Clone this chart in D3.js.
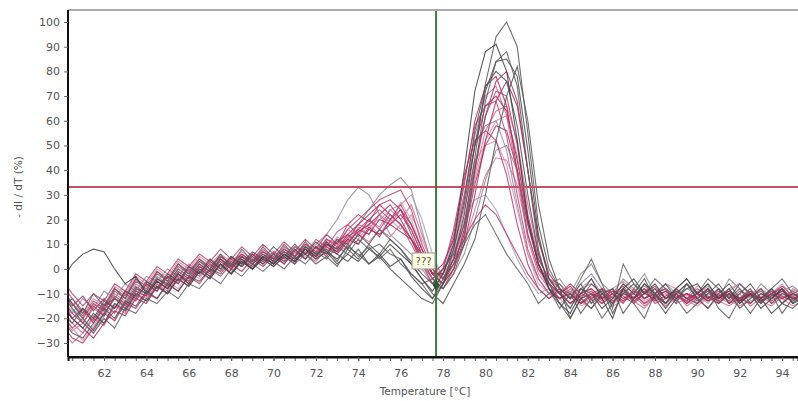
<!DOCTYPE html>
<html><head><meta charset="utf-8">
<script src="https://cdn.jsdelivr.net/npm/d3@7"></script>
<style>body{margin:0;background:#fff}svg{display:block}</style>
</head><body><svg id="c" width="798" height="401"></svg>
<script>
const temps = [60,60.5,61,61.5,62,62.5,63,63.5,64,64.5,65,65.5,66,66.5,67,67.5,68,68.5,69,69.5,70,70.5,71,71.5,72,72.5,73,73.5,74,74.5,75,75.5,76,76.5,77,77.5,78,78.5,79,79.5,80,80.5,81,81.5,82,82.5,83,83.5,84,84.5,85,85.5,86,86.5,87,87.5,88,88.5,89,89.5,90,90.5,91,91.5,92,92.5,93,93.5,94,94.5,95];
const xTicks = [62,64,66,68,70,72,74,76,78,80,82,84,86,88,90,92,94];
const yTicks = [-30,-20,-10,0,10,20,30,40,50,60,70,80,90,100];
const threshold = 33.2;
const cursorTemp = 77.67;
const cursorLabel = "???";
const cursorValue = -6.5;

const s1 = [-8,-14,-20,-25,-18,-12,-15,-8,-10,-4, -6,0,-3,2,-1,4,1,5,2,6, 3,7,4,6,2,5,1,8,4,10, 6,12,8,3,-2,-6,0,6,18,45, 75,94,100,90,55,18,0,-8,-12,-6, -14,-8,-18,-10,-6,-12,-8,-14,-10,-6, -12,-8,-14,-10,-16,-12,-8,-14,-10,-12, -11];
const s2 = [-5,2,6,8,7,0,-6,-3,-10,-5, -8,-2,-6,0,-3,2,-2,4,0,5, 2,6,3,8,4,7,2,6,3,8, 5,10,6,2,-4,-9,-2,10,40,72, 88,91,80,52,20,2,-8,-14,-18,-10, -4,-12,-20,-8,-4,-10,-6,-12,-8,-4, -10,-6,-12,-8,-14,-10,-16,-12,-8,-14, -12];
const s3 = [-15,-20,-24,-18,-22,-14,-17,-10,-13,-7, -10,-4,-7,-1,-4,2,-2,3,0,4, 1,5,2,9,5,11,6,3,8,2, 6,1,4,-3,-8,-12,-6,4,22,50, 72,84,85,78,48,14,-4,-10,-16,-8, -10,-16,-12,-6,-10,-4,-12,-18,-12,-8, -6,-12,-8,-14,-10,-6,-12,-18,-14,-10, -12];
const s4 = [-20,-26,-28,-22,-16,-20,-13,-15,-9,-12, -6,-9,-3,-5,0,-2,3,1,5,2, 6,3,8,4,9,6,12,8,14,10, 16,12,8,2,-4,-10,-14,-6,2,12, 30,52,70,82,60,26,4,-8,-20,-12, -6,-10,-14,-8,-12,-6,-10,-14,-8,-12, -14,-10,-6,-12,-8,-14,-10,-12,-8,-14, -10];
const s5 = [-10,-16,-22,-26,-20,-24,-16,-18,-12,-14, -9,-12,-6,-8,-3,-6,0,-3,2,-1, 3,0,5,2,7,4,9,6,12,8, 10,6,4,-2,-6,-12,-4,2,10,18, 22,14,6,0,-6,-14,-10,-6,-12,-4, 4,-6,-16,2,-6,-10,-4,-8,-14,-6, -10,-4,-8,-12,-6,-10,-14,-8,-4,-10, -8];
const s6 = [-12,-18,-22,-15,-19,-11,-14,-7,-10,-4, -7,-1,-4,2,-1,4,0,5,2,6, 3,7,4,8,5,10,8,14,18,22, 26,28,24,14,4,-2,2,12,34,60, 74,78,66,40,14,0,-6,-10,-14,-10, -8,-12,-10,-14,-8,-12,-10,-8,-12,-10, -12,-8,-12,-10,-14,-10,-12,-8,-12,-10, -11];
const s7 = [-18,-24,-20,-14,-17,-9,-12,-5,-8,-2, -5,1,-2,3,0,5,2,6,3,7, 4,8,5,10,7,12,10,16,20,24, 28,30,32,24,10,0,-4,4,18,42, 62,72,70,50,22,4,-4,-8,-12,-8, -12,-10,-14,-10,-12,-8,-14,-12,-10,-14, -10,-12,-8,-14,-12,-10,-14,-10,-12,-10, -12];
const s8 = [-6,-12,-17,-21,-14,-18,-10,-13,-6,-9, -3,-6,0,-3,2,-1,4,1,6,3, 7,4,9,6,12,9,15,18,14,20, 16,22,18,10,2,-4,0,14,36,58, 66,68,54,30,8,-4,-10,-12,-8,-12, -10,-8,-12,-9,-13,-10,-8,-12,-10,-13, -9,-12,-10,-13,-9,-11,-13,-10,-12,-9, -11];
const s9 = [-22,-28,-30,-24,-18,-21,-14,-16,-10,-12, -6,-9,-3,-6,0,-3,2,-1,4,1, 5,2,7,4,9,6,12,10,16,14, 20,18,22,16,6,-2,-6,2,14,34, 50,58,56,40,18,2,-6,-10,-6,-10, -8,-12,-9,-11,-14,-10,-12,-9,-13,-10, -13,-10,-12,-9,-13,-11,-9,-13,-10,-12, -10];
const s10 = [-14,-20,-16,-22,-15,-12,-16,-9,-11,-5, -8,-2,-5,1,-2,3,0,4,1,5, 2,6,3,7,4,9,6,11,15,18, 22,26,20,12,2,-6,-8,-2,10,30, 52,68,76,66,40,12,-2,-8,-10,-14, -10,-12,-8,-12,-10,-14,-11,-9,-12,-10, -12,-9,-13,-10,-12,-14,-10,-12,-9,-12, -11];
const s11 = [-10,-14,-19,-13,-16,-8,-11,-4,-7,-1, -4,2,-1,4,1,5,2,6,3,7, 4,8,5,9,6,11,8,13,16,20, 24,20,26,18,8,0,-4,4,12,20, 26,22,14,6,-2,-8,-12,-8,-12,-10, -12,-8,-10,-13,-9,-12,-10,-8,-11,-13, -10,-13,-9,-11,-13,-10,-12,-9,-11,-13, -10];
const s12 = [-16,-22,-26,-19,-22,-15,-17,-10,-12,-6, -9,-3,-6,0,-3,2,-1,3,0,4, 1,5,2,6,3,8,6,12,18,16, 22,18,24,16,6,-2,-2,10,30,54, 70,74,62,38,12,-2,-8,-12,-10,-14, -12,-14,-10,-13,-11,-15,-12,-10,-14,-12, -14,-11,-13,-15,-12,-10,-13,-15,-11,-13, -12];
const s13 = [-8,-14,-18,-12,-15,-7,-10,-3,-6,0, -3,3,0,5,2,6,3,7,4,8, 5,9,6,10,7,12,9,14,12,18, 14,20,16,22,12,2,-2,4,16,36, 52,60,62,46,20,4,-4,-6,-10,-8, -6,-10,-8,-5,-9,-7,-10,-6,-8,-11, -7,-9,-11,-8,-6,-10,-8,-11,-7,-9, -8];
const s14 = [-20,-25,-22,-16,-19,-12,-14,-8,-10,-4, -7,-1,-4,1,-2,4,1,5,2,6, 3,7,4,8,5,10,7,9,14,11, 16,13,18,12,4,-4,-6,0,10,24, 38,45,44,34,14,0,-8,-10,-14,-12, -14,-11,-15,-13,-10,-14,-12,-15,-11,-13, -15,-12,-14,-11,-15,-13,-11,-14,-12,-15, -13];
const s15 = [-14,-18,-12,-16,-9,-12,-6,-9,-3,-5, 0,-3,2,-1,4,1,5,2,6,3, 7,4,9,6,10,14,20,28,33,30, 22,14,10,6,0,-6,-2,12,30,50, 58,60,48,26,6,-4,-10,-8,-12,-6, -2,-8,-12,-6,-10,-8,-12,-6,-10,-8, -10,-7,-12,-9,-6,-11,-8,-12,-9,-7, -10];
const s16 = [-10,-16,-20,-14,-17,-10,-13,-6,-9,-3, -6,0,-3,3,0,5,2,6,3,7, 4,8,5,9,6,10,7,12,18,24, 30,34,37,32,16,0,-8,-2,6,20, 36,48,50,40,18,2,-6,-4,-10,-2, 2,-6,-10,-4,-8,-2,-10,-14,-8,-4, -10,-6,-12,-4,-8,-12,-6,-10,-14,-8, -10];
const s17 = [-18,-22,-16,-20,-13,-16,-9,-11,-5,-8, -2,-5,1,-2,4,0,5,2,7,4, 9,5,10,6,11,7,4,9,6,2, 5,0,-4,-8,-12,-14,-6,8,28,56, 74,80,76,58,30,6,-6,-14,-20,-12, -16,-10,-8,-18,-12,-6,-10,-16,-10,-6, -12,-16,-10,-6,-12,-18,-12,-8,-14,-16, -12];
const s18 = [-12,-20,-24,-28,-22,-17,-19,-12,-14,-7, -10,-4,-7,-1,-4,2,-2,3,0,5, 2,6,3,8,5,10,7,12,10,16, 14,18,15,12,6,-2,-2,8,26,50, 66,70,64,44,20,2,-8,-12,-10,-14, -11,-9,-13,-10,-12,-9,-13,-11,-9,-12, -10,-13,-11,-9,-12,-10,-13,-11,-9,-12, -11];
const s19 = [-24,-30,-26,-20,-23,-15,-18,-11,-13,-6, -10,-3,-6,1,-3,4,0,6,2,8, 3,9,5,10,6,12,9,16,13,20, 17,24,20,26,14,2,-4,2,14,38, 56,64,66,52,26,6,-6,-12,-9,-13, -16,-11,-14,-9,-13,-16,-11,-14,-10,-15, -12,-16,-11,-14,-10,-15,-12,-9,-14,-11, -13];
const s20 = [-4,-10,-15,-10,-13,-6,-9,-2,-5,1, -2,4,1,6,3,8,4,9,5,10, 6,11,7,12,8,14,10,18,22,19, 26,22,18,12,4,-4,0,16,38,52, 56,52,38,18,2,-8,-12,-9,-14,-11, -9,-13,-10,-7,-12,-8,-11,-14,-9,-12, -8,-11,-14,-10,-12,-9,-13,-10,-7,-11, -10];
const s21 = [-16,-12,-18,-10,-15,-8,-12,-4,-9,-1, -5,2,-2,4,0,6,1,8,3,9, 4,10,5,11,6,8,3,10,5,9, 4,8,2,-2,-6,-4,-8,0,12,40, 68,84,88,74,40,8,-8,-16,-10,-18, -12,-20,-14,-8,-14,-20,-10,-6,-12,-18, -14,-8,-16,-20,-12,-8,-14,-10,-18,-12, -14];
const s22 = [-19,-24,-29,-23,-17,-21,-13,-16,-9,-12, -5,-8,-1,-4,2,-1,4,1,6,2, 7,3,8,5,10,7,13,10,17,14, 22,19,27,20,8,-2,-4,6,24,44, 50,52,42,24,6,-6,-10,-14,-11,-15, -13,-10,-14,-12,-9,-13,-11,-15,-12,-10, -14,-12,-10,-13,-15,-12,-10,-14,-11,-13, -12];
const s23 = [-10,-15,-11,-17,-12,-16,-9,-12,-6,-9, -3,-6,1,-2,3,0,5,1,6,2, 6,2,8,4,9,5,11,14,10,17, 13,20,24,18,8,-2,-6,0,16,40, 62,76,80,68,40,12,-4,-10,-7,-12, -10,-14,-11,-8,-13,-10,-7,-12,-10,-14, -11,-8,-12,-10,-13,-9,-12,-10,-8,-12, -11];
const s24 = [-12,-17,-21,-26,-19,-14,-16,-9,-11,-5, -8,-2,-5,1,-1,4,0,5,2,7, 4,8,5,9,6,10,8,12,15,18, 20,24,26,30,20,6,-4,6,20,28, 30,24,14,4,-4,-10,-8,-12,-16,-8, -4,-10,-14,-8,-12,-6,-10,-14,-8,-12, -10,-14,-8,-12,-6,-10,-14,-10,-6,-12, -10];

const seriesList = [
  {v:s16, c:"#8c8c8c"}, {v:s15, c:"#9088a8"}, {v:s24, c:"#a59ab8"},
  {v:s13, c:"#d886a6"}, {v:s14, c:"#d47a9c"}, {v:s12, c:"#cc6690"}, {v:s22, c:"#dc90b0"}, {v:s19, c:"#d46a94"},
  {v:s11, c:"#b83a6c"}, {v:s9, c:"#b03464"}, {v:s8, c:"#c04874"}, {v:s20, c:"#b53a68"},
  {v:s7, c:"#b8406c"}, {v:s10, c:"#a82c5c"}, {v:s6, c:"#b03060"}, {v:s18, c:"#a02858"}, {v:s23, c:"#a63060"},
  {v:s5, c:"#606060"}, {v:s4, c:"#555555"}, {v:s3, c:"#4a4a4a"}, {v:s21, c:"#5a5a5a"},
  {v:s17, c:"#4d4d4d"}, {v:s2, c:"#404040"}, {v:s1, c:"#555555"}
];

const L = 68, R = 798, T = 10, B = 357;
const x = d3.scaleLinear().domain([60.30, 94.75]).range([L, R]);
const y = d3.scaleLinear().domain([-35.67, 104.86]).range([B, T]);

const svg = d3.select("#c");
svg.append("rect").attr("width",798).attr("height",401).attr("fill","#fff");
svg.append("defs").append("clipPath").attr("id","clip")
  .append("rect").attr("x",L).attr("y",T).attr("width",R-L).attr("height",B-T);

const line = d3.line().x((d,i)=>x(temps[i])).y(d=>y(d));
const g = svg.append("g").attr("clip-path","url(#clip)");
seriesList.forEach(s=>{
  g.append("path").attr("d",line(s.v)).attr("fill","none")
   .attr("stroke",s.c).attr("stroke-width",1.1).attr("stroke-opacity",0.85);
});

// threshold line
g.append("line").attr("x1",L).attr("x2",R).attr("y1",y(threshold)).attr("y2",y(threshold))
  .attr("stroke","#c45068").attr("stroke-width",2);
// cursor line
svg.append("line").attr("x1",x(cursorTemp)).attr("x2",x(cursorTemp)).attr("y1",T).attr("y2",B)
  .attr("stroke","#3d7a3d").attr("stroke-width",2);
// marker
svg.append("path").attr("d",d3.symbol(d3.symbolDiamond,40)())
  .attr("transform",`translate(${x(cursorTemp)},${y(cursorValue)})`).attr("fill","#2f5a2f");
// label box
const lb = svg.append("g").attr("transform",`translate(${x(cursorTemp)-24},${y(cursorValue)-32})`);
lb.append("rect").attr("width",23).attr("height",16).attr("fill","#ffffe6").attr("stroke","#999");
lb.append("text").attr("x",11.5).attr("y",12).attr("text-anchor","middle")
  .attr("font-family","DejaVu Sans, sans-serif").attr("font-size",10).attr("fill","#555533").text(cursorLabel);

// top border
svg.append("line").attr("x1",L).attr("x2",R).attr("y1",T).attr("y2",T).attr("stroke","#aaa").attr("stroke-width",2);

// axes
const yAxis = svg.append("g").attr("transform",`translate(${L},0)`)
  .call(d3.axisLeft(y).tickValues(yTicks).tickSize(4).tickPadding(4));
const xMinor = [];
for (let t = 60.5; t <= 94.75; t += 0.5) xMinor.push(t);
const xAxisMinor = svg.append("g").attr("transform",`translate(0,${B})`)
  .call(d3.axisBottom(x).tickValues(xMinor).tickSize(4).tickFormat(""));
const xAxis = svg.append("g").attr("transform",`translate(0,${B})`)
  .call(d3.axisBottom(x).tickValues(xTicks).tickSize(4).tickPadding(8));
[yAxis,xAxis,xAxisMinor].forEach(a=>{
  a.select(".domain").attr("stroke","#111").attr("stroke-width",2);
  a.selectAll(".tick line").attr("stroke","#666");
  a.selectAll("text").attr("font-family","DejaVu Sans, sans-serif").attr("font-size",11).attr("fill","#555");
});
xAxisMinor.select(".domain").attr("d",`M${L},0H${R}`);
yAxis.select(".domain").attr("d",`M0,${T}V${B}`);

svg.append("text").attr("x",425).attr("y",395).attr("text-anchor","middle")
  .attr("font-family","DejaVu Sans, sans-serif").attr("font-size",10.5).attr("fill","#555")
  .text("Temperature [°C]");
svg.append("text").attr("transform","translate(22,187) rotate(-90)").attr("text-anchor","middle")
  .attr("font-family","DejaVu Sans, sans-serif").attr("font-size",10.5).attr("fill","#555")
  .text("- dI / dT (%)");
</script></body></html>
